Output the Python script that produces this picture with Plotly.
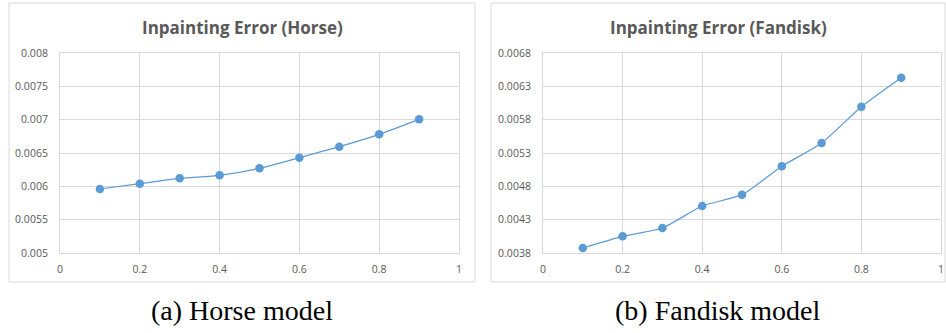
import plotly.graph_objects as go

W, H = 946, 333

x_vals = [0.1, 0.2, 0.3, 0.4, 0.5, 0.6, 0.7, 0.8, 0.9]
horse_err = [0.00596, 0.00604, 0.00612, 0.006165, 0.00627, 0.00643, 0.006595, 0.00678, 0.007005]
fandisk_err = [0.003875, 0.00405, 0.004175, 0.004505, 0.004675, 0.0051, 0.00545, 0.005995, 0.00643]

x_ticks = [0, 0.2, 0.4, 0.6, 0.8, 1]
x_ticktext = ["0", "0.2", "0.4", "0.6", "0.8", "1"]
horse_yticks = [0.005, 0.0055, 0.006, 0.0065, 0.007, 0.0075, 0.008]
horse_yticktext = ["0.005", "0.0055", "0.006", "0.0065", "0.007", "0.0075", "0.008"]
fandisk_yticks = [0.0038, 0.0043, 0.0048, 0.0053, 0.0058, 0.0063, 0.0068]
fandisk_yticktext = ["0.0038", "0.0043", "0.0048", "0.0053", "0.0058", "0.0063", "0.0068"]

titles = ["Inpainting Error (Horse)", "Inpainting Error (Fandisk)"]
captions = ["(a) Horse model", "(b) Fandisk model"]

BLUE = "#5B9BD5"
GRID = "#D9D9D9"
TXT = "#595959"

def px(x):
    return x / W

def py(y):
    return 1 - y / H

fig = go.Figure()
fig.add_trace(go.Scatter(x=x_vals, y=horse_err, mode="lines+markers", xaxis="x", yaxis="y",
                         line=dict(color=BLUE, width=1.25, shape="spline", smoothing=0.6),
                         marker=dict(color=BLUE, size=8.5), showlegend=False))
fig.add_trace(go.Scatter(x=x_vals, y=fandisk_err, mode="lines+markers", xaxis="x2", yaxis="y2",
                         line=dict(color=BLUE, width=1.25, shape="spline", smoothing=0.6),
                         marker=dict(color=BLUE, size=8.5), showlegend=False))

tickfont = dict(family="Open Sans", size=10.5, color=TXT)
common_x = dict(range=[0, 1], tickvals=x_ticks, ticktext=x_ticktext, showgrid=True, gridcolor=GRID,
                gridwidth=1, zeroline=False, showline=True, mirror=True, linecolor=GRID, linewidth=1,
                ticks="", tickfont=tickfont, ticklabelstandoff=6, automargin=False, fixedrange=True)
common_y = dict(showgrid=True, gridcolor=GRID, gridwidth=1, zeroline=False, showline=True, mirror=True,
                linecolor=GRID, linewidth=1, ticks="", tickfont=tickfont, ticklabelstandoff=9,
                automargin=False, fixedrange=True)

ydom = [py(253), py(53)]
fig.update_layout(
    width=W, height=H,
    margin=dict(l=0, r=0, t=0, b=0),
    paper_bgcolor="white", plot_bgcolor="white",
    xaxis=dict(domain=[px(60), px(459)], anchor="y", **common_x),
    yaxis=dict(domain=ydom, anchor="x", range=[horse_yticks[0], horse_yticks[-1]],
               tickvals=horse_yticks, ticktext=horse_yticktext, **common_y),
    xaxis2=dict(domain=[px(543), px(941)], anchor="y2", **common_x),
    yaxis2=dict(domain=ydom, anchor="x2", range=[fandisk_yticks[0], fandisk_yticks[-1]],
                tickvals=fandisk_yticks, ticktext=fandisk_yticktext, **common_y),
    shapes=[
        dict(type="rect", xref="paper", yref="paper", x0=px(9), x1=px(475), y0=py(282), y1=py(3),
             line=dict(color=GRID, width=1)),
        dict(type="rect", xref="paper", yref="paper", x0=px(491), x1=px(945), y0=py(282), y1=py(3),
             line=dict(color=GRID, width=1)),
    ],
)

for cx, t, c in [(242, titles[0], captions[0]), (718, titles[1], captions[1])]:
    fig.add_annotation(x=px(cx), y=py(28), xref="paper", yref="paper", text="<b>" + t + "</b>",
                       showarrow=False, xanchor="center", yanchor="middle",
                       font=dict(family="Open Sans", size=17, color=TXT))
    fig.add_annotation(x=px(cx), y=py(310), xref="paper", yref="paper", text=c,
                       showarrow=False, xanchor="center", yanchor="middle",
                       font=dict(family="Liberation Serif", size=28, color="black"))

fig.write_html("out.html", config={"displayModeBar": False},
               post_script="document.body.style.margin='0';document.body.style.overflow='hidden';")
